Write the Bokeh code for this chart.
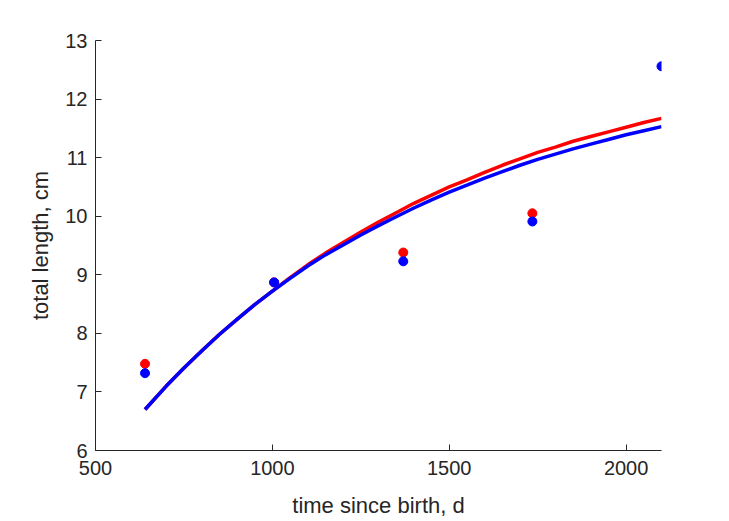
from bokeh.plotting import figure
from bokeh.models import Range1d, FixedTicker
from bokeh.embed import file_html
from bokeh.resources import INLINE

# observed data
t_obs = [640, 1005, 1370, 1735, 2100]
red_obs_t = [640, 1005, 1370, 1735]
red_obs_L = [7.48, 8.87, 9.38, 10.05]
blue_obs_L = [7.32, 8.87, 9.23, 9.91, 12.56]

# fitted curves
t_fit = [640, 700, 750, 800, 850, 900, 950, 1000, 1050, 1100, 1150, 1200, 1250, 1300, 1350,
         1400, 1450, 1500, 1550, 1600, 1650, 1700, 1750, 1800, 1850, 1900, 1950, 2000, 2050, 2100]
red_fit = [6.70, 7.10, 7.41, 7.70, 7.98, 8.24, 8.49, 8.72, 8.95, 9.17, 9.37, 9.55, 9.73, 9.90, 10.06,
           10.22, 10.36, 10.50, 10.62, 10.75, 10.87, 10.98, 11.09, 11.18, 11.28, 11.36, 11.44, 11.52, 11.60, 11.67]
blue_fit = [6.70, 7.10, 7.41, 7.70, 7.98, 8.24, 8.49, 8.72, 8.94, 9.15, 9.34, 9.51, 9.68, 9.84, 9.99,
            10.14, 10.28, 10.41, 10.53, 10.65, 10.76, 10.87, 10.97, 11.06, 11.15, 11.23, 11.31, 11.39, 11.46, 11.53]

x_ticks = [500, 1000, 1500, 2000]
y_ticks = [6, 7, 8, 9, 10, 11, 12, 13]

W, H = 720, 520
p = figure(width=W, height=H, output_backend="svg", toolbar_location=None,
           x_range=Range1d(500, 2100), y_range=Range1d(6, 13),
           min_border_left=95, min_border_top=40, min_border_right=59, min_border_bottom=67)
p.outline_line_color = None
p.xgrid.visible = False
p.ygrid.visible = False
p.background_fill_color = "white"

p.scatter(red_obs_t, red_obs_L, size=9, color="#ff0000")
p.line(t_fit, red_fit, line_width=3.5, color="#ff0000", line_join="round")
p.scatter(t_obs, blue_obs_L, size=9, color="#0000ff")
p.line(t_fit, blue_fit, line_width=3.5, color="#0000ff", line_join="round")

txt = "#262626"
font = "Liberation Sans"
for ax in (p.xaxis[0], p.yaxis[0]):
    ax.axis_line_color = txt
    ax.axis_line_width = 1
    ax.major_tick_line_color = txt
    ax.major_tick_in = 6
    ax.major_tick_out = 0
    ax.minor_tick_line_color = None
    ax.major_label_text_font = font
    ax.major_label_text_font_size = "20px"
    ax.major_label_text_color = txt
    ax.axis_label_text_font = font
    ax.axis_label_text_font_size = "22px"
    ax.axis_label_text_font_style = "normal"
    ax.axis_label_text_color = txt

p.xaxis.ticker = FixedTicker(ticks=x_ticks)
p.yaxis.ticker = FixedTicker(ticks=y_ticks)
p.xaxis.axis_label = "time since birth, d"
p.yaxis.axis_label = "total length, cm"
p.xaxis.major_label_standoff = 10
p.yaxis.major_label_standoff = 8
p.xaxis.axis_label_standoff = 15
p.yaxis.axis_label_standoff = 9

open("out.html", "w").write(file_html(p, INLINE))
